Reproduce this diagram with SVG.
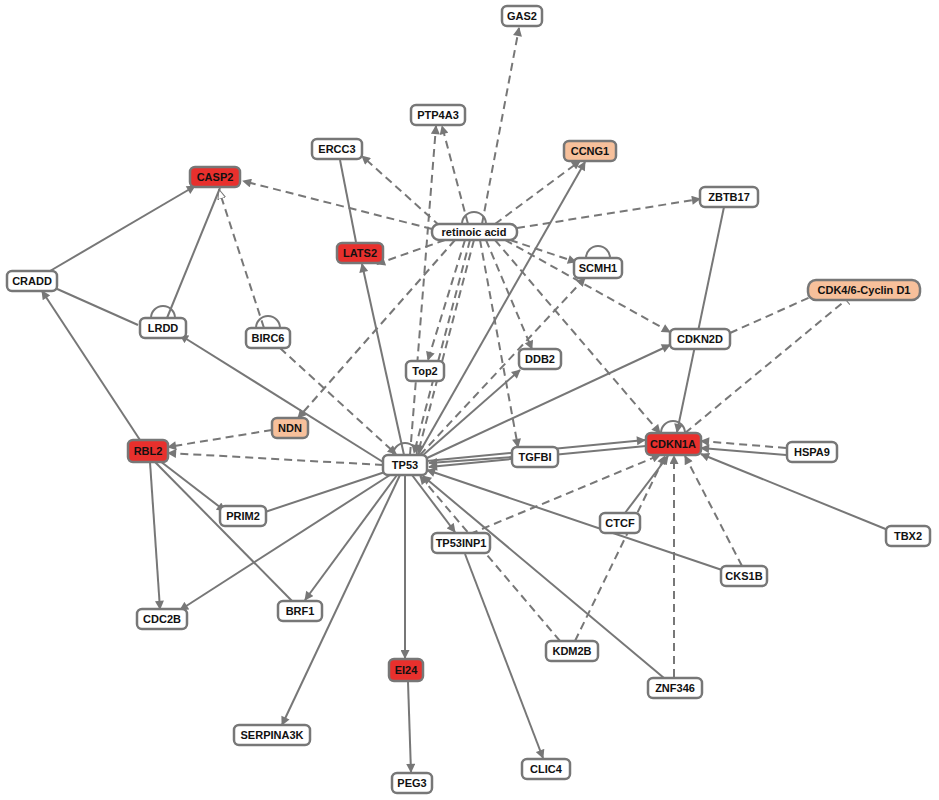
<svg xmlns="http://www.w3.org/2000/svg" width="939" height="800" viewBox="0 0 939 800">
<style>
.e{stroke:#777;stroke-width:2;fill:none}
.d{stroke-dasharray:8,5}
.a{marker-end:url(#ar)}
.o{marker-end:url(#op)}
.b{marker-end:url(#bar)}
.n rect{fill:#fff;stroke:#777;stroke-width:2.5}
.n.r rect{fill:#e8302d}
.n.g rect{fill:#f7c09b}
.n text{font-family:"Liberation Sans",Arial,sans-serif;font-size:11px;font-weight:bold;fill:#111;text-anchor:middle;dominant-baseline:central}
</style>
<defs>
<marker id="ar" viewBox="0 0 10 10" refX="9" refY="5" markerWidth="10" markerHeight="9" markerUnits="userSpaceOnUse" orient="auto"><path d="M0,0L10,5L0,10z" fill="#777"/></marker>
<marker id="op" viewBox="0 0 10 10" refX="9" refY="5" markerWidth="10" markerHeight="10" markerUnits="userSpaceOnUse" orient="auto"><path d="M0,1L10,5L0,9z" fill="#fff" stroke="#777" stroke-width="1"/></marker>
<marker id="bar" viewBox="0 0 4 12" refX="2" refY="6" markerWidth="4" markerHeight="12" markerUnits="userSpaceOnUse" orient="auto"><path d="M2,0V12" stroke="#777" stroke-width="1"/></marker>
</defs>
<g id="connectors">
<path class="e d a" d="M482,224L519,28"/>
<path class="e d a" d="M468,224L442,126"/>
<path class="e d a" d="M495,224L580,161"/>
<path class="e d a" d="M440,226L362,156"/>
<path class="e d a" d="M432,229L243,181"/>
<path class="e d a" d="M517,228L700,199"/>
<path class="e d a" d="M445,240L377,264"/>
<path class="e d a" d="M510,240L576,262"/>
<path class="e d a" d="M505,240L670,332"/>
<path class="e d a" d="M486,240L532,349"/>
<path class="e d a" d="M465,240L428,360"/>
<path class="e d a" d="M455,240L298,418"/>
<path class="e d a" d="M495,240L660,433"/>
<path class="e d a" d="M480,240L518,447"/>
<path class="e d a" d="M470,240L414,453"/>
<path class="e d a" d="M474,240L418,453"/>
<path class="e" d="M462,224A12,12 0 1 1 486,224"/>
<path class="e d a" d="M410,455L436,126"/>
<path class="e a" d="M418,455L585,162"/>
<path class="e a" d="M404,455L362,264"/>
<path class="e" d="M340,160L356,242"/>
<path class="e d a" d="M420,455L585,278"/>
<path class="e a" d="M422,456L520,370"/>
<path class="e a" d="M427,458L670,345"/>
<path class="e a" d="M383,462L180,335"/>
<path class="e d a" d="M383,465L168,453"/>
<path class="e d a" d="M272,430L168,447"/>
<path class="e d a" d="M280,348L396,454"/>
<path class="e d o" d="M264,328L219,190"/>
<path class="e" d="M167,318L220,188"/>
<path class="e a" d="M50,271L195,186"/>
<path class="e" d="M138,325L55,288"/>
<path class="e a" d="M140,440L42,291"/>
<path class="e a" d="M160,461L225,511"/>
<path class="e a" d="M150,462L160,609"/>
<path class="e" d="M155,462L292,601"/>
<path class="e" d="M385,472L265,512"/>
<path class="e a" d="M390,475L180,610"/>
<path class="e a" d="M397,475L305,600"/>
<path class="e a" d="M400,475L282,725"/>
<path class="e a" d="M405,475L405,658"/>
<path class="e a" d="M408,682L411,772"/>
<path class="e a" d="M412,475L455,532"/>
<path class="e a" d="M465,554L543,758"/>
<path class="e d a" d="M470,534L660,455"/>
<path class="e d a" d="M560,641L420,476"/>
<path class="e d a" d="M575,641L665,456"/>
<path class="e a" d="M664,678L423,476"/>
<path class="e d a" d="M674,677L674,456"/>
<path class="e a" d="M722,570L427,470"/>
<path class="e d a" d="M742,566L685,456"/>
<path class="e a" d="M625,513L668,456"/>
<path class="e a" d="M512,457L429,463"/>
<path class="e a" d="M646,446L429,467"/>
<path class="e a" d="M427,461L645,440"/>
<path class="e d a" d="M786,448L701,441"/>
<path class="e a" d="M786,455L701,448"/>
<path class="e a" d="M888,530L701,454"/>
<path class="e a" d="M724,207L677,432"/>
<path class="e d b" d="M730,333L815,295"/>
<path class="e d b" d="M685,433L846,300"/>
<path class="e" d="M661,433A12,12 0 1 1 685,433"/>
<path class="e" d="M586,258A12,12 0 1 1 610,258"/>
<path class="e" d="M151,318A12,12 0 1 1 175,318"/>
<path class="e" d="M256,328A12,12 0 1 1 280,328"/>
<path class="e" d="M393,455A12,12 0 1 1 417,455"/>
</g>
<g id="GAS2" class="n"><rect x="502" y="6" width="40" height="20" rx="5"/><text x="522" y="16">GAS2</text></g>
<g id="PTP4A3" class="n"><rect x="411" y="105" width="54" height="20" rx="5"/><text x="438" y="115">PTP4A3</text></g>
<g id="CCNG1" class="n g"><rect x="564" y="141" width="52" height="20" rx="5"/><text x="590" y="151">CCNG1</text></g>
<g id="ERCC3" class="n"><rect x="312" y="139" width="50" height="20" rx="5"/><text x="337" y="149">ERCC3</text></g>
<g id="CASP2" class="n r"><rect x="190" y="167" width="50" height="20" rx="5"/><text x="215" y="177">CASP2</text></g>
<g id="ZBTB17" class="n"><rect x="700" y="187" width="58" height="20" rx="5"/><text x="729" y="197">ZBTB17</text></g>
<g id="retinoic_acid" class="n"><rect x="432" y="224" width="85" height="16" rx="7"/><text x="474" y="232">retinoic acid</text></g>
<g id="LATS2" class="n r"><rect x="337" y="243" width="46" height="20" rx="5"/><text x="360" y="253">LATS2</text></g>
<g id="SCMH1" class="n"><rect x="574" y="258" width="48" height="20" rx="5"/><text x="598" y="268">SCMH1</text></g>
<g id="CRADD" class="n"><rect x="7" y="271" width="50" height="20" rx="5"/><text x="32" y="281">CRADD</text></g>
<g id="CDK46" class="n g"><rect x="808" y="280" width="112" height="20" rx="8"/><text x="864" y="290">CDK4/6-Cyclin D1</text></g>
<g id="LRDD" class="n"><rect x="140" y="318" width="46" height="20" rx="5"/><text x="163" y="328">LRDD</text></g>
<g id="BIRC6" class="n"><rect x="246" y="328" width="44" height="20" rx="5"/><text x="268" y="338">BIRC6</text></g>
<g id="CDKN2D" class="n"><rect x="670" y="329" width="60" height="20" rx="5"/><text x="700" y="339">CDKN2D</text></g>
<g id="DDB2" class="n"><rect x="519" y="349" width="42" height="20" rx="5"/><text x="540" y="359">DDB2</text></g>
<g id="Top2" class="n"><rect x="406" y="361" width="38" height="20" rx="5"/><text x="425" y="371">Top2</text></g>
<g id="NDN" class="n g"><rect x="272" y="418" width="36" height="20" rx="5"/><text x="290" y="428">NDN</text></g>
<g id="RBL2" class="n r"><rect x="128" y="440" width="40" height="22" rx="5"/><text x="148" y="451">RBL2</text></g>
<g id="TP53" class="n"><rect x="383" y="455" width="44" height="20" rx="5"/><text x="405" y="465">TP53</text></g>
<g id="TGFBI" class="n"><rect x="512" y="447" width="46" height="20" rx="5"/><text x="535" y="457">TGFBI</text></g>
<g id="CDKN1A" class="n r"><rect x="646" y="433" width="55" height="22" rx="5"/><text x="673" y="444">CDKN1A</text></g>
<g id="HSPA9" class="n"><rect x="787" y="442" width="50" height="20" rx="5"/><text x="812" y="452">HSPA9</text></g>
<g id="PRIM2" class="n"><rect x="220" y="506" width="46" height="20" rx="5"/><text x="243" y="516">PRIM2</text></g>
<g id="CTCF" class="n"><rect x="600" y="513" width="40" height="20" rx="5"/><text x="620" y="523">CTCF</text></g>
<g id="TBX2" class="n"><rect x="886" y="526" width="44" height="20" rx="5"/><text x="908" y="536">TBX2</text></g>
<g id="TP53INP1" class="n"><rect x="432" y="533" width="58" height="20" rx="5"/><text x="461" y="543">TP53INP1</text></g>
<g id="CKS1B" class="n"><rect x="721" y="566" width="46" height="20" rx="5"/><text x="744" y="576">CKS1B</text></g>
<g id="BRF1" class="n"><rect x="278" y="601" width="44" height="20" rx="5"/><text x="300" y="611">BRF1</text></g>
<g id="CDC2B" class="n"><rect x="137" y="609" width="50" height="20" rx="5"/><text x="162" y="619">CDC2B</text></g>
<g id="KDM2B" class="n"><rect x="546" y="641" width="52" height="20" rx="5"/><text x="572" y="651">KDM2B</text></g>
<g id="ZNF346" class="n"><rect x="648" y="678" width="54" height="20" rx="5"/><text x="675" y="688">ZNF346</text></g>
<g id="EI24" class="n r"><rect x="389" y="659" width="34" height="22" rx="5"/><text x="406" y="670">EI24</text></g>
<g id="SERPINA3K" class="n"><rect x="234" y="725" width="76" height="20" rx="5"/><text x="272" y="735">SERPINA3K</text></g>
<g id="PEG3" class="n"><rect x="392" y="773" width="40" height="20" rx="5"/><text x="412" y="783">PEG3</text></g>
<g id="CLIC4" class="n"><rect x="522" y="759" width="48" height="20" rx="5"/><text x="546" y="769">CLIC4</text></g>
</svg>
